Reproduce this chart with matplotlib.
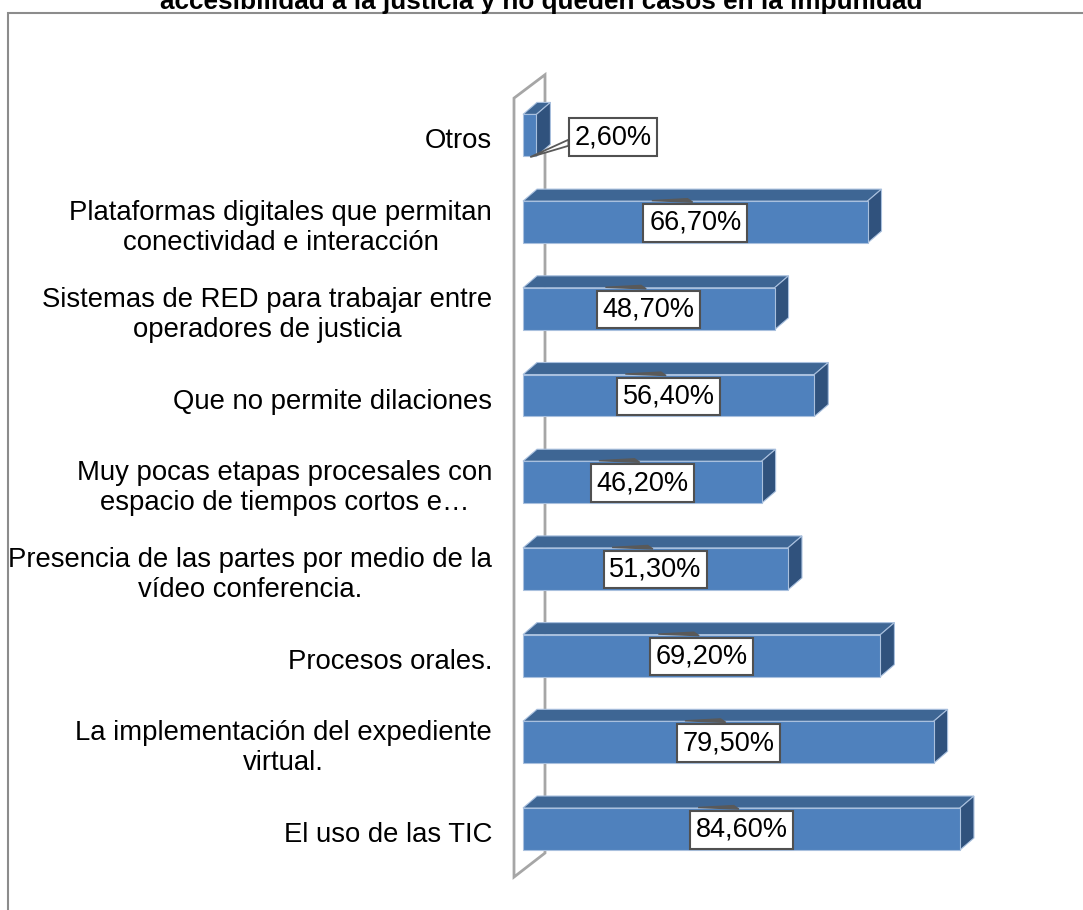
import matplotlib.pyplot as plt
from matplotlib.patches import Polygon, Rectangle

plt.rcParams['font.family'] = ['Liberation Sans', 'DejaVu Sans']

title = "accesibilidad a la justicia y no queden casos en la impunidad"

# bottom to top
categories = [
    "El uso de las TIC",
    "La implementación del expediente\nvirtual.",
    "Procesos orales.",
    "Presencia de las partes por medio de la\nvídeo conferencia.",
    "Muy pocas etapas procesales con\nespacio de tiempos cortos e…",
    "Que no permite dilaciones",
    "Sistemas de RED para trabajar entre\noperadores de justicia",
    "Plataformas digitales que permitan\nconectividad e interacción",
    "Otros",
]
values = [84.6, 79.5, 69.2, 51.3, 46.2, 56.4, 48.7, 66.7, 2.6]
labels = ["84,60%", "79,50%", "69,20%", "51,30%", "46,20%",
          "56,40%", "48,70%", "66,70%", "2,60%"]

W, H = 1083, 910
fig = plt.figure(figsize=(W / 100, H / 100), dpi=100)

# outer chart frame (runs off the right and bottom edges)
fig.patches.append(Rectangle((8 / W, -0.01), 1.05, 1 - 13 / H + 0.01,
                             transform=fig.transFigure, fill=False,
                             edgecolor='#8c8c8c', lw=1.5))

fig.text(541 / W, 1 - 9 / H, title, ha='center', va='baseline',
         fontsize=18.8, fontweight='bold')

# axes placed so that 0 % sits right at the wall
px_per_x = 5.165
px_per_cat = 86.7
y0_px = 829
left_px = 523
ylo, yhi = -0.6, 8.6
bottom_px = y0_px - ylo * px_per_cat
top_px = y0_px - yhi * px_per_cat
ax = fig.add_axes([left_px / W, 1 - bottom_px / H,
                   100 * px_per_x / W, (bottom_px - top_px) / H])
ax.set_xlim(0, 100)
ax.set_ylim(ylo, yhi)
ax.axis('off')

# depth offset of the 3D bars
dx = 14 / px_per_x
dy = 12 / px_per_cat
half = 0.242

# back wall outline
wx0, wx1 = -9 / px_per_x, 22 / px_per_x
wall = Polygon([(wx0, -0.554), (wx0, 8.43), (wx1, 8.70), (wx1, -0.277)],
               closed=True, facecolor='white', edgecolor='#a6a6a6',
               lw=2, clip_on=False, zorder=1)
ax.add_patch(wall)

front_c = '#4f81bd'
top_c = '#3e6694'
side_c = '#30527d'
edge_c = '#a9c0de'

for i, (v, lab) in enumerate(zip(values, labels)):
    yb, yt = i - half, i + half
    top = Polygon([(0, yt), (dx, yt + dy), (v + dx, yt + dy), (v, yt)],
                  facecolor=top_c, edgecolor=edge_c, lw=0.8, clip_on=False, zorder=2)
    side = Polygon([(v, yb), (v, yt), (v + dx, yt + dy), (v + dx, yb + dy)],
                   facecolor=side_c, edgecolor=edge_c, lw=0.8, clip_on=False, zorder=2)
    ax.add_patch(top)
    ax.add_patch(side)
    ax.barh(i, v, height=2 * half, color=front_c, edgecolor=edge_c, lw=0.8,
            zorder=3, clip_on=False)

    # callout box with its leader
    if i == len(values) - 1:
        bx, by = 17.4, i - 0.02
        ax.fill([1.4, 8.8, 8.8], [i - 0.25, i - 0.05, i - 0.12],
                facecolor='white', edgecolor='#595959', lw=1.3, zorder=4,
                clip_on=False)
    else:
        bx, by = v / 2, i - 0.01
        ax.fill([bx - 8.4, bx - 1.5, bx - 0.5], [i + 0.248, i + 0.27, i + 0.23],
                color='#595959', lw=1, zorder=4, clip_on=False)
    ax.text(bx, by, lab, ha='center', va='center', fontsize=19.5, zorder=5,
            bbox=dict(boxstyle='square,pad=0.21', facecolor='white',
                      edgecolor='#505050', lw=1.5))

    # category label to the left of the wall
    ax.text(-31 / px_per_x, i - 0.07, categories[i], ha='right', va='center',
            multialignment='center', fontsize=19.8, linespacing=1.2)

fig.savefig('out.png', dpi=100)
